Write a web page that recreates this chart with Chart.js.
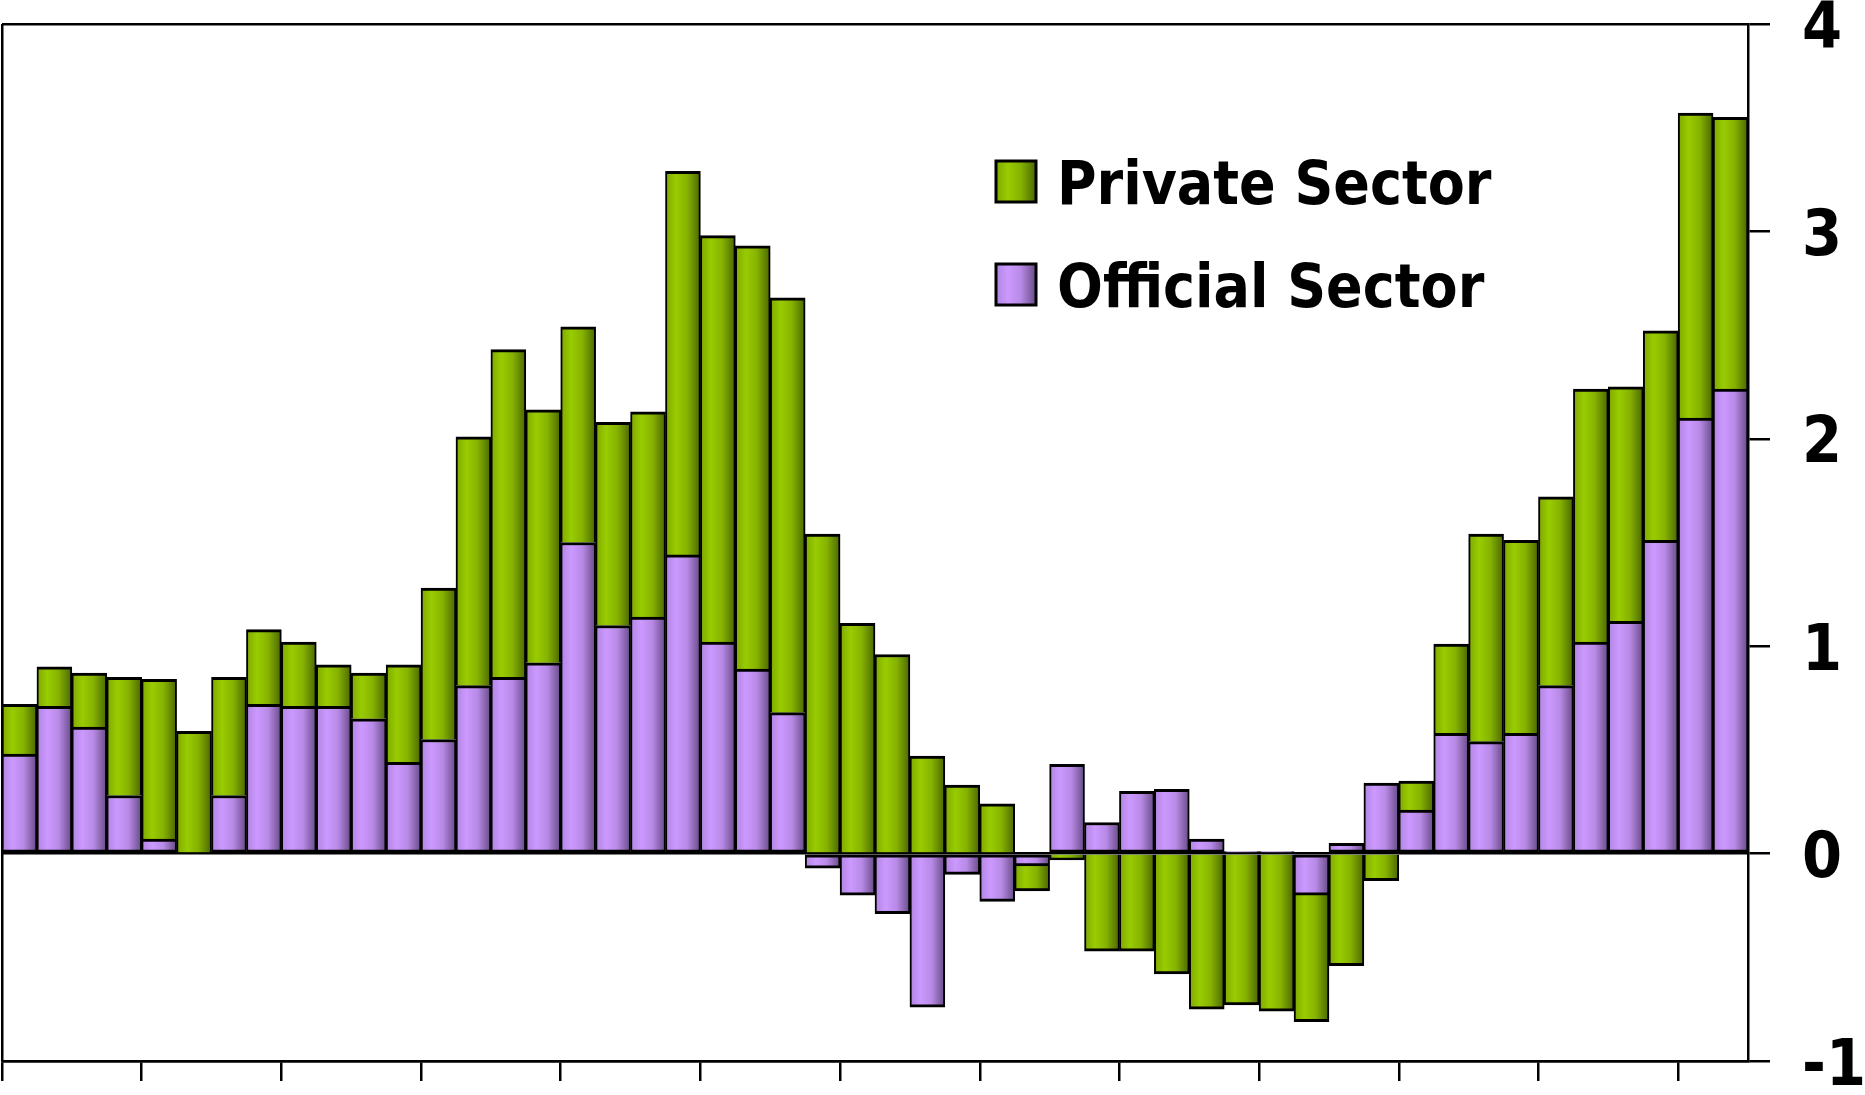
<!DOCTYPE html>
<html>
<head>
<meta charset="utf-8">
<title>Private and Official Sector</title>
<script src="https://cdn.jsdelivr.net/npm/chart.js@4.4.1/dist/chart.umd.min.js"></script>
<style>
  html, body { margin: 0; padding: 0; background: #fff; }
  #wrap { width: 1865px; height: 1095px; position: relative; }
</style>
</head>
<body>
<div id="wrap"><canvas id="sectorChart"></canvas></div>
<script>
// 50 periods, a tick mark every 4 bars
const periods = Array.from({ length: 50 }, (_, i) => 'P' + (i + 1));

const officialSector = [
  0.48, 0.71, 0.61, 0.28, 0.07, 0.00, 0.28, 0.72, 0.71, 0.71,
  0.65, 0.44, 0.55, 0.81, 0.85, 0.92, 1.50, 1.10, 1.14, 1.44,
  1.02, 0.89, 0.68, -0.07, -0.20, -0.29, -0.74, -0.10, -0.23, -0.06,
  0.43, 0.15, 0.30, 0.31, 0.07, 0.01, 0.01, -0.20, 0.05, 0.34,
  0.21, 0.58, 0.54, 0.58, 0.81, 1.02, 1.12, 1.51, 2.10, 2.24
];

const privateSector = [
  0.24, 0.19, 0.26, 0.57, 0.77, 0.59, 0.57, 0.36, 0.31, 0.20,
  0.22, 0.47, 0.73, 1.20, 1.58, 1.22, 1.04, 0.98, 0.99, 1.85,
  1.96, 2.04, 2.00, 1.54, 1.11, 0.96, 0.47, 0.33, 0.24, -0.12,
  -0.03, -0.47, -0.47, -0.58, -0.75, -0.73, -0.76, -0.61, -0.54, -0.13,
  0.14, 0.43, 1.00, 0.93, 0.91, 1.22, 1.13, 1.01, 1.47, 1.31
];

const yTicks = [-1, 0, 1, 2, 3, 4];
const seriesNames = ['Private Sector', 'Official Sector'];

const FONT = "'DejaVu Sans Condensed', 'DejaVu Sans', sans-serif";
const NONE = 'rgba(0,0,0,0)';

const GREEN_STOPS = [[0, '#7ea800'], [0.3, '#99cc00'], [0.62, '#86b200'], [1, '#4a6600']];
const PURPLE_STOPS = [[0, '#b084e0'], [0.3, '#cc99ff'], [0.62, '#b88ae6'], [1, '#664a86']];

function makeGradient(chart, left, right, stops) {
  const g = chart.ctx.createLinearGradient(left, 0, right, 0);
  stops.forEach(s => g.addColorStop(s[0], s[1]));
  return g;
}

// shade each bar left to right, using the x scale to find its edges
function barFill(stops, fallback) {
  return function (c) {
    const xs = c.chart.scales && c.chart.scales.x;
    if (!xs || !xs.width) return fallback;
    const cx = xs.getPixelForValue(c.dataIndex);
    const w = xs.width / periods.length;
    return makeGradient(c.chart, cx - w / 2, cx + w / 2, stops);
  };
}

const sectorLegend = {
  id: 'sectorLegend',
  afterDraw(chart) {
    const ctx = chart.ctx;
    const items = [
      { label: seriesNames[0], stops: GREEN_STOPS },
      { label: seriesNames[1], stops: PURPLE_STOPS }
    ];
    ctx.save();
    ctx.font = 'bold 60px ' + FONT;
    ctx.textBaseline = 'alphabetic';
    ctx.textAlign = 'left';
    items.forEach((item, i) => {
      const y = 161 + i * 103;
      ctx.fillStyle = makeGradient(chart, 996, 1036, item.stops);
      ctx.fillRect(996, y, 40, 41);
      ctx.lineWidth = 3;
      ctx.strokeStyle = '#000';
      ctx.strokeRect(996, y, 40, 41);
      ctx.fillStyle = '#000';
      ctx.fillText(item.label, 1057, y + 43);
    });
    ctx.restore();
  }
};

const barBorder = { top: 3, bottom: 3, left: 2, right: 2 };

new Chart(document.getElementById('sectorChart').getContext('2d'), {
  type: 'bar',
  data: {
    labels: periods,
    datasets: [
      {
        label: seriesNames[1],
        data: officialSector,
        backgroundColor: barFill(PURPLE_STOPS, '#cc99ff'),
        borderColor: '#000',
        borderWidth: barBorder,
        borderSkipped: false,
        barPercentage: 1,
        categoryPercentage: 1
      },
      {
        label: seriesNames[0],
        data: privateSector,
        backgroundColor: barFill(GREEN_STOPS, '#99cc00'),
        borderColor: '#000',
        borderWidth: barBorder,
        borderSkipped: 'start',
        barPercentage: 1,
        categoryPercentage: 1
      }
    ]
  },
  options: {
    responsive: true,
    maintainAspectRatio: false,
    animation: false,
    layout: { padding: { left: 2, top: 24, right: 0, bottom: 0 } },
    plugins: {
      legend: { display: false },
      tooltip: { enabled: false }
    },
    scales: {
      x: {
        stacked: true,
        ticks: { display: false, autoSkip: false },
        grid: {
          offset: true,
          lineWidth: 2.5,
          tickLength: 20,
          color: c => c.index === 0 ? '#000' : NONE,
          tickColor: c => (c.index !== undefined && c.index % 4 === 0) ? '#000' : NONE
        },
        border: { display: true, color: '#000', width: 2.5 },
        afterFit: s => { s.height = 34; }
      },
      y: {
        position: 'right',
        stacked: true,
        min: -1,
        max: 4,
        afterBuildTicks: s => { s.ticks = yTicks.map(v => ({ value: v })); },
        ticks: {
          color: '#000',
          padding: 32,
          labelOffset: 7,
          font: { family: FONT, size: 64, weight: 'bold' }
        },
        grid: {
          lineWidth: 2.5,
          tickLength: 22,
          color: c => (c.tick && [4, 0, -1].includes(c.tick.value)) ? '#000' : NONE,
          tickColor: '#000'
        },
        border: { display: true, color: '#000', width: 2.5 },
        afterFit: s => { s.width = 117; s.paddingTop = 0; s.paddingBottom = 0; }
      }
    }
  },
  plugins: [sectorLegend]
});
</script>
</body>
</html>
